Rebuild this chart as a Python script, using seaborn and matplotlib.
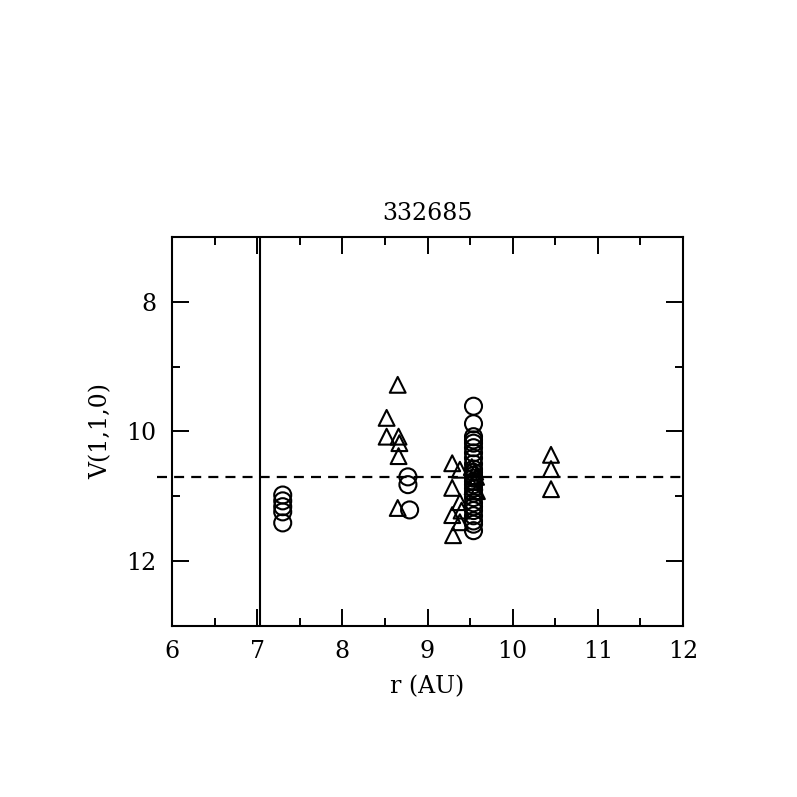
import matplotlib
matplotlib.use("Agg")
import matplotlib.pyplot as plt
import seaborn as sns
import pandas as pd
from matplotlib.ticker import MultipleLocator

sns.set_style("ticks")
plt.rcParams['font.family'] = ['DejaVu Serif', 'DejaVu Sans']
for k in ["text.color", "axes.labelcolor", "xtick.color", "ytick.color",
          "xtick.labelcolor", "ytick.labelcolor", "axes.edgecolor"]:
    plt.rcParams[k] = "black"

title = "332685"
xlabel = "r (AU)"
ylabel = "V(1,1,0)"

# circles
circ_r = [7.30, 7.30, 7.30, 7.30, 7.30,
          8.77, 8.77, 8.79,
          9.54, 9.54, 9.54, 9.54, 9.54, 9.54, 9.54, 9.54, 9.54, 9.54, 9.54, 9.54,
          9.54, 9.54, 9.54, 9.54, 9.54, 9.54, 9.54, 9.54, 9.54, 9.54, 9.54, 9.54, 9.54]
circ_v = [10.98, 11.07, 11.16, 11.24, 11.41,
          10.70, 10.82, 11.21,
          9.61, 9.88, 10.08, 10.13, 10.18, 10.25, 10.33, 10.41, 10.50, 10.58,
          10.63, 10.68, 10.72, 10.77, 10.82, 10.88, 10.95, 11.02, 11.10, 11.16,
          11.22, 11.30, 11.38, 11.43, 11.53]

# triangles
tri_r = [8.52, 8.52, 8.65, 8.66, 8.67, 8.66, 8.65,
         9.29, 9.29, 9.29, 9.30, 9.38, 9.38, 9.38, 9.40,
         9.52, 9.56, 9.57, 9.55, 9.53, 9.58,
         10.45, 10.45, 10.45]
tri_v = [9.79, 10.08, 9.28, 10.08, 10.18, 10.38, 11.18,
         10.49, 10.87, 11.29, 11.60, 10.59, 11.09, 11.40, 11.22,
         10.55, 10.62, 10.70, 10.78, 10.85, 10.92,
         10.36, 10.58, 10.89]

vline_x = 7.03
hline_y = 10.70

circ_df = pd.DataFrame({"r": circ_r, "V": circ_v})
tri_df = pd.DataFrame({"r": tri_r, "V": tri_v})

fig = plt.figure(figsize=(7.97, 7.97), dpi=100)
ax = fig.add_axes([0.2158, 0.2146, 0.6412, 0.488])

sns.scatterplot(data=circ_df, x="r", y="V", marker="o", s=150,
                facecolors="none", edgecolor="black", linewidth=1.5, ax=ax, zorder=3)
sns.scatterplot(data=tri_df, x="r", y="V", marker="^", s=130,
                facecolors="none", edgecolor="black", linewidth=1.5, ax=ax, zorder=3)

ax.axvline(vline_x, color="black", lw=1.5)
ax.plot([5.82, 12], [hline_y, hline_y], color="black", lw=1.6,
        dashes=(4.5, 3.2), clip_on=False)

ax.set_xlim(6, 12)
ax.set_ylim(13, 7)
ax.xaxis.set_major_locator(MultipleLocator(1))
ax.xaxis.set_minor_locator(MultipleLocator(0.5))
ax.set_yticks([8, 10, 12])
ax.set_yticks([9, 11], minor=True)

for s in ax.spines.values():
    s.set_visible(True)
    s.set_linewidth(1.5)
    s.set_color("black")

ax.tick_params(which="both", direction="in", top=True, right=True,
               width=1.4, color="black")
ax.tick_params(which="major", length=12, labelsize=17, pad=10)
ax.tick_params(axis="y", which="major", pad=11)
ax.tick_params(which="minor", length=6)

ax.set_xlabel(xlabel, fontsize=17, labelpad=9)
ax.set_ylabel(ylabel, fontsize=17, labelpad=10)
ax.set_title(title, fontsize=17, pad=12)

fig.savefig("out.png", dpi=100)
